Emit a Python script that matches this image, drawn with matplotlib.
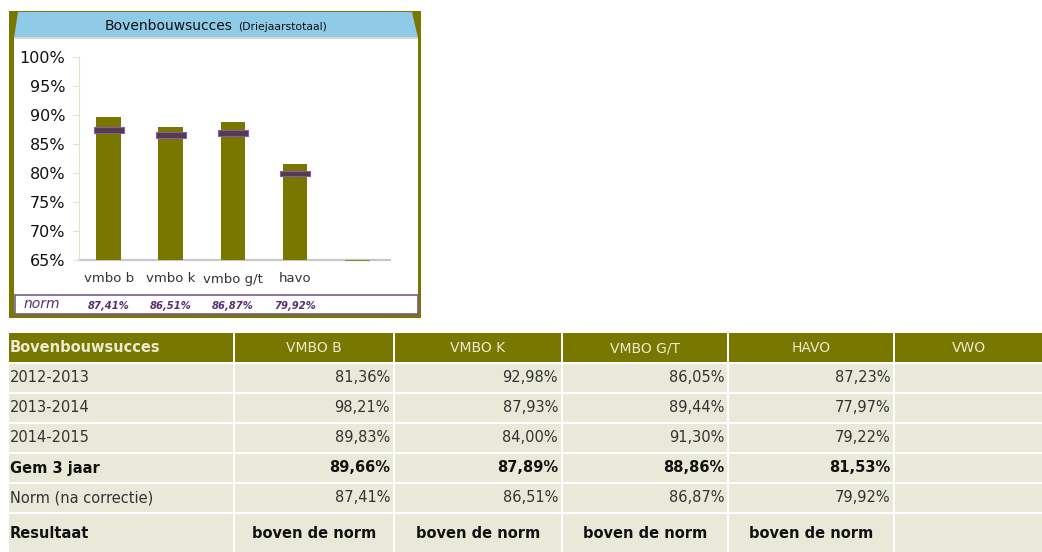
import numpy as np
import matplotlib
matplotlib.use("Agg")
import matplotlib.pyplot as plt
from matplotlib.patches import Rectangle, Polygon
from matplotlib.transforms import blended_transform_factory

# chart data
categories = ['vmbo b', 'vmbo k', 'vmbo g/t', 'havo', '']
gem_3_jaar = [89.66, 87.89, 88.86, 81.53, 65.0]
norm = [87.41, 86.51, 86.87, 79.92, np.nan]
y_ticks = [65, 70, 75, 80, 85, 90, 95, 100]

# table data
columns = ['VMBO B', 'VMBO K', 'VMBO G/T', 'HAVO', 'VWO']
row_labels = ['2012-2013', '2013-2014', '2014-2015', 'Gem 3 jaar',
              'Norm (na correctie)', 'Resultaat']
jaar_2012 = [81.36, 92.98, 86.05, 87.23]
jaar_2013 = [98.21, 87.93, 89.44, 77.97]
jaar_2014 = [89.83, 84.00, 91.30, 79.22]
resultaat = ['boven de norm', 'boven de norm', 'boven de norm', 'boven de norm']

OLIVE = '#787800'
BEIGE = '#e9e9d9'
PURPLE = '#5a2d6e'
W, H = 1042, 552

fig = plt.figure(figsize=(W / 100, H / 100), dpi=100)
plt.rcParams['font.family'] = ['DejaVu Sans']


def rect(x0, y0, x1, y1, z=-1, **kw):
    fig.patches.append(Rectangle((x0 / W, 1 - y1 / H), (x1 - x0) / W, (y1 - y0) / H,
                                 transform=fig.transFigure, zorder=z, **kw))


def text(x, y, s, **kw):
    fig.text(x / W, 1 - y / H, s, **kw)


def pct(v):
    return ('%.2f%%' % v).replace('.', ',')


# panel frame
rect(9, 11, 421, 318, facecolor=OLIVE, edgecolor='none')
rect(14, 38, 418, 313, facecolor='white', edgecolor='none')
fig.patches.append(Polygon([(18 / W, 1 - 12 / H), (412 / W, 1 - 12 / H),
                            (418 / W, 1 - 38 / H), (14 / W, 1 - 38 / H)],
                           closed=True, transform=fig.transFigure, zorder=-1,
                           facecolor='#8fcae6', edgecolor='none'))
rect(14, 37, 418, 39, facecolor='#d8d8d8', edgecolor='none')
text(232, 26, 'Bovenbouwsucces', fontsize=10, ha='right', va='center', color='#111111')
text(238, 27, '(Driejaarstotaal)', fontsize=7.8, ha='left', va='center', color='#111111')

# norm row box
rect(14.5, 295, 417.5, 313.5, facecolor='white', edgecolor='#7a5a8e', linewidth=1.2)
text(24, 304.5, 'norm', fontsize=10, style='italic', color=PURPLE, ha='left', va='center')

# chart axes
ax = fig.add_axes([79 / W, 1 - 260 / H, (390 - 79) / W, (260 - 57) / H])
ax.set_zorder(2)
ax.patch.set_visible(False)
x = np.arange(len(categories))
ax.bar(x, np.array(gem_3_jaar) - 65, width=0.4, bottom=65, color=OLIVE, zorder=2)
ax.bar(x[-1], 0.15, width=0.4, bottom=64.8, color='#8a8a20', zorder=2, clip_on=False)
n = np.array(norm)
ax.bar(x, 1.0, width=0.48, bottom=n - 0.5, color='#543a52',
       edgecolor='#8a5aa8', linewidth=0.8, zorder=3)
ax.set_xlim(-0.48, 4.53)
ax.set_ylim(65, 100)
ax.set_yticks(y_ticks)
ax.set_yticklabels(['%d%%' % t for t in y_ticks], fontsize=11.5, color='#111111')
ax.set_xticks(x)
ax.set_xticklabels(categories, fontsize=9.5, color='#333333')
ax.tick_params(axis='x', length=0, pad=9)
ax.tick_params(axis='y', length=4, color='#e2e2c8', pad=6)
for side in ['top', 'right']:
    ax.spines[side].set_visible(False)
ax.spines['left'].set_color('#e2e2c8')
ax.spines['bottom'].set_color('#c8c8c8')
ax.spines['bottom'].set_linewidth(1.6)
ax.spines['bottom'].set_zorder(1)

bt = blended_transform_factory(ax.transData, fig.transFigure)
for xi, v in zip(x, norm):
    if not np.isnan(v):
        fig.text(xi, 1 - 306 / H, pct(v), transform=bt, fontsize=7.2, style='italic',
                 fontweight='bold', color=PURPLE, ha='center', va='center')

# table
col_edges = [(9, 233), (235, 393), (395, 561), (563, 727), (729, 893), (895, 1042)]
row_edges = [(333, 362), (364, 392), (394, 422), (424, 452), (454, 482), (484, 512), (514, 552)]

for (c0, c1) in col_edges:
    r0, r1 = row_edges[0]
    rect(c0, r0, c1, r1, facecolor=OLIVE, edgecolor='none')
text(10, 348, 'Bovenbouwsucces', fontsize=10.5, fontweight='bold', color='#ecebd2',
     ha='left', va='center')
for (c0, c1), name in zip(col_edges[1:], columns):
    text((c0 + c1) / 2, 348, name, fontsize=10, color='#ecebd2', ha='center', va='center')

table_rows = [[pct(v) for v in jaar_2012],
              [pct(v) for v in jaar_2013],
              [pct(v) for v in jaar_2014],
              [pct(v) for v in gem_3_jaar[:4]],
              [pct(v) for v in norm[:4]],
              resultaat]
for i, (label, vals) in enumerate(zip(row_labels, table_rows)):
    r0, r1 = row_edges[i + 1]
    cy = (r0 + r1) / 2
    for (c0, c1) in col_edges:
        rect(c0, r0, c1, r1, facecolor=BEIGE, edgecolor='none')
    bold = label in ('Gem 3 jaar', 'Resultaat')
    text(10, cy, label, fontsize=10.5, fontweight='bold' if bold else 'normal',
         color='#111111' if bold else '#333333', ha='left', va='center')
    for (c0, c1), v in zip(col_edges[1:5], vals):
        if label == 'Resultaat':
            text((c0 + c1) / 2, cy, v, fontsize=10.5, fontweight='bold',
                 color='#111111', ha='center', va='center')
        else:
            text(c1 - 3, cy, v, fontsize=10.5, fontweight='bold' if bold else 'normal',
                 color='#111111' if bold else '#333333', ha='right', va='center')

fig.savefig('out.png', dpi=100)
